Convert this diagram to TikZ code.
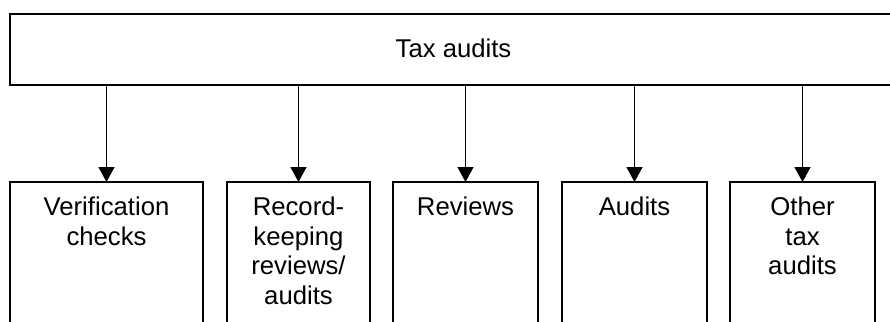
\documentclass[tikz,border=0pt]{standalone}
\usepackage{fontspec}
\setmainfont{Liberation Sans}
\usetikzlibrary{arrows.meta}
\begin{document}
\begin{tikzpicture}[x=1pt,y=-1pt,
  box/.style={draw, line width=1.6pt, rectangle, inner sep=0pt, outer sep=0pt, anchor=north west},
  txt/.style={font=\fontsize{25.7pt}{29.5pt}\selectfont},
  lbl/.style={txt, inner sep=0pt, anchor=north, align=center},
  arr/.style={line width=1.4pt, -{Triangle[width=16pt,length=15pt]}}]
\useasboundingbox (0,0) rectangle (890,321);
\clip (0,0) rectangle (890,321);
\node[box, txt, minimum width=887pt, minimum height=71pt, text height=18.7pt, text depth=3.7pt] (top) at (10,14) {Tax audits};
\node[box, minimum width=193pt, minimum height=170pt] (b1) at (10,182) {};
\node[box, minimum width=143pt, minimum height=170pt] (b2) at (227,182) {};
\node[box, minimum width=145pt, minimum height=170pt] (b3) at (393,182) {};
\node[box, minimum width=145pt, minimum height=170pt] (b4) at (562,182) {};
\node[box, minimum width=145pt, minimum height=170pt] (b5) at (730,182) {};
\node[lbl] (t1) at ([yshift=-15pt]b1.north) {Verification\\checks};
\node[lbl] (t2) at ([yshift=-15pt]b2.north) {Record-\\keeping\\reviews/\\audits};
\node[lbl] (t3) at ([yshift=-15pt]b3.north) {Reviews};
\node[lbl] (t4) at ([yshift=-15pt]b4.north) {Audits};
\node[lbl] (t5) at ([yshift=-15pt]b5.north) {Other\\tax\\audits};
\foreach \b in {b1,b2,b3,b4,b5}
  \draw[arr] (top.south -| \b.north) -- (\b.north);
\end{tikzpicture}
\end{document}
